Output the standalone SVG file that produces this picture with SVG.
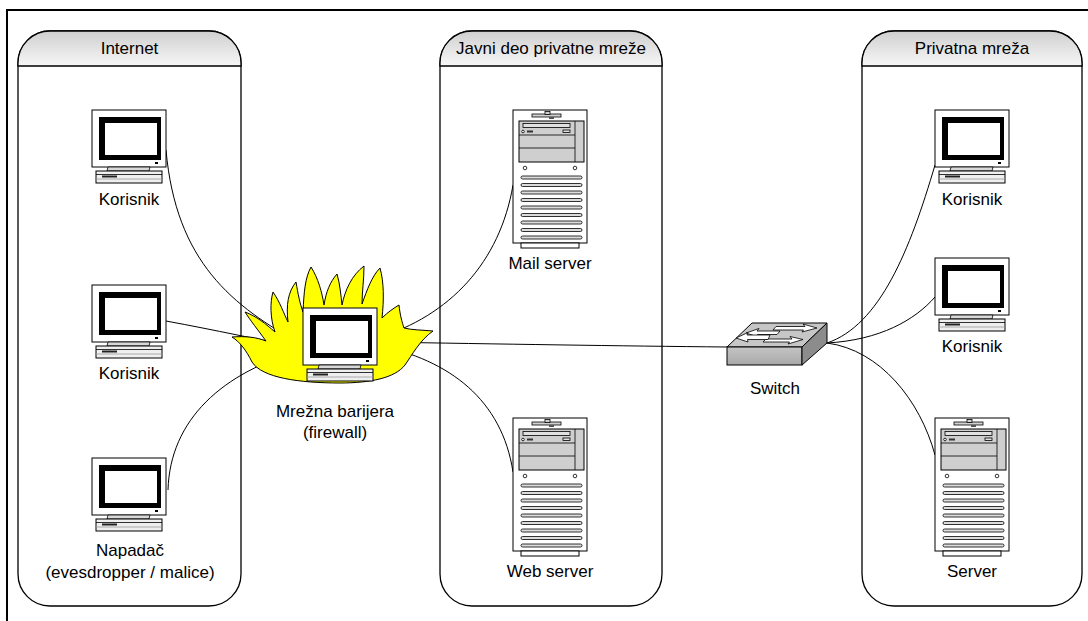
<svg xmlns="http://www.w3.org/2000/svg" width="1088" height="621" viewBox="0 0 1088 621">
  <style>
    .lane { fill: #ffffff; stroke: #000000; stroke-width: 1.3; }
    .lane-head { fill: url(#headGrad); stroke: #000000; stroke-width: 1.3; }
    .title { font-family: "Liberation Sans", Arial, sans-serif; font-size: 17px; fill: #000000; text-anchor: middle; }
    .label { font-family: "Liberation Sans", Arial, sans-serif; font-size: 17px; fill: #000000; text-anchor: middle; }
    .wire { fill: none; stroke: #000000; stroke-width: 1; }
    .ol { stroke: #000000; stroke-width: 1; }
    .thin { stroke: #000000; stroke-width: 0.8; }
  </style>
  <defs>
    <linearGradient id="headGrad" x1="0" y1="0" x2="0" y2="1">
      <stop offset="0" stop-color="#cfcfcf"/>
      <stop offset="1" stop-color="#f7f7f7"/>
    </linearGradient>
    <linearGradient id="switchFront" x1="0" y1="0" x2="0" y2="1">
      <stop offset="0" stop-color="#c4c4c4"/>
      <stop offset="1" stop-color="#a8a8a8"/>
    </linearGradient>

    <!-- desktop workstation: monitor + base unit, 74 x 73 -->
    <g id="pc">
      <rect x="0" y="0" width="74" height="57" fill="#ffffff" class="ol"/>
      <rect x="7" y="7" width="62" height="43" fill="#000000"/>
      <rect x="13" y="13" width="52" height="32" fill="#ffffff"/>
      <rect x="63" y="52" width="3" height="2" fill="#000000"/>
      <polygon points="16,57 58,57 57,61 15,61" fill="#d8d8d8" class="thin"/>
      <rect x="4" y="61" width="66" height="12" fill="#efefef" class="ol"/>
      <line x1="4" y1="64.5" x2="70" y2="64.5" class="thin"/>
      <rect x="10" y="65.5" width="15" height="2" fill="#222222"/>
      <line x1="4" y1="69" x2="70" y2="69" stroke="#999999" stroke-width="0.8"/>
    </g>

    <!-- tower server, 74 x 138 -->
    <g id="tower">
      <rect x="0" y="0" width="74" height="133" fill="#ffffff" class="ol"/>
      <rect x="19" y="4" width="29" height="3" fill="#d0d0d0" class="thin"/>
      <rect x="32" y="1.5" width="5" height="3" fill="#d0d0d0" class="thin"/>
      <rect x="36" y="7" width="5" height="2" fill="#555555"/>
      <rect x="6" y="11" width="65" height="41" fill="#cfcfcf" class="ol"/>
      <line x1="62" y1="11" x2="62" y2="52" class="thin"/>
      <line x1="6" y1="25" x2="62" y2="25" class="thin"/>
      <line x1="6" y1="38" x2="62" y2="38" class="thin"/>
      <rect x="10" y="13.5" width="47" height="4" fill="#e0e0e0" class="thin"/>
      <circle cx="10" cy="21.5" r="1.3" fill="#ffffff" class="thin"/>
      <rect x="14" y="20.5" width="6" height="2" fill="#333333"/>
      <rect x="50" y="20" width="7" height="2.5" fill="#e0e0e0" class="thin"/>
      <circle cx="12" cy="58" r="1.8" fill="#ffffff" class="thin"/>
      <circle cx="62" cy="58" r="1.8" fill="#ffffff" class="thin"/>
      <g fill="#dcdcdc" class="thin">
        <rect x="8" y="66" width="61" height="3" rx="1.5"/>
        <rect x="8" y="73.5" width="61" height="3" rx="1.5"/>
        <rect x="8" y="81" width="61" height="3" rx="1.5"/>
        <rect x="8" y="88.5" width="61" height="3" rx="1.5"/>
        <rect x="8" y="96" width="61" height="3" rx="1.5"/>
        <rect x="8" y="103.5" width="61" height="3" rx="1.5"/>
        <rect x="8" y="111" width="61" height="3" rx="1.5"/>
        <rect x="8" y="118.5" width="61" height="3" rx="1.5"/>
        <rect x="8" y="126" width="61" height="3" rx="1.5"/>
      </g>
      <rect x="8" y="133" width="58" height="5" fill="#ffffff" class="ol"/>
    </g>
  </defs>

  <rect x="0" y="0" width="1088" height="621" fill="#ffffff"/>

  <!-- page frame -->
  <path d="M7 621 V10 H1088" fill="none" stroke="#000000" stroke-width="2"/>

  <!-- zones -->
  <g id="lane-internet">
    <rect x="18" y="31" width="223" height="575" rx="32" class="lane"/>
    <path d="M18 66 V63 A32 32 0 0 1 50 31 H209 A32 32 0 0 1 241 63 V66 Z" class="lane-head"/>
    <text x="129.5" y="54" class="title">Internet</text>
  </g>
  <g id="lane-public">
    <rect x="440" y="31" width="222" height="575" rx="32" class="lane"/>
    <path d="M440 66 V63 A32 32 0 0 1 472 31 H630 A32 32 0 0 1 662 63 V66 Z" class="lane-head"/>
    <text x="551" y="54" class="title">Javni deo privatne mreže</text>
  </g>
  <g id="lane-private">
    <rect x="862" y="31" width="220" height="575" rx="32" class="lane"/>
    <path d="M862 66 V63 A32 32 0 0 1 894 31 H1050 A32 32 0 0 1 1082 63 V66 Z" class="lane-head"/>
    <text x="972" y="54" class="title">Privatna mreža</text>
  </g>

  <!-- links -->
  <g id="connectors">
    <path class="wire" d="M166 150 C176 262 232 306 303 345"/>
    <path class="wire" d="M166 321 C215 330 260 340 303 348"/>
    <path class="wire" d="M168 490 C170 420 222 372 303 350"/>
    <path class="wire" d="M377 338 C450 316 500 262 513 185"/>
    <path class="wire" d="M377 345 C450 360 502 400 513 472"/>
    <path class="wire" d="M377 342 C500 344 620 346 727 347"/>
    <path class="wire" d="M827 343 C880 325 910 250 935 165"/>
    <path class="wire" d="M827 343 C880 340 915 320 935 297"/>
    <path class="wire" d="M827 343 C880 350 920 400 935 455"/>
  </g>

  <g id="internet-user-1">
    <use href="#pc" x="92" y="110"/>
    <text x="129" y="205" class="label">Korisnik</text>
  </g>
  <g id="internet-user-2">
    <use href="#pc" x="92" y="285"/>
    <text x="129" y="379" class="label">Korisnik</text>
  </g>
  <g id="attacker">
    <use href="#pc" x="92" y="458"/>
    <text x="130" y="556" class="label">Napadač</text>
    <text x="130" y="578" class="label">(evesdropper / malice)</text>
  </g>

  <g id="firewall">
    <path d="M340 383 C300 383 262 378 252 362 C246 350 240 342 232 337 C245 336 256 337 266 341 C258 330 250 320 245 312 C256 316 266 324 275 332 C270 318 270 302 273 292 C280 302 284 314 288 322 C286 305 288 292 296 282 C298 294 300 304 303 312 C304 292 305 278 311 267 C318 278 322 292 324 305 C326 292 330 282 337 274 C340 284 341 296 342 305 C345 290 352 275 364 266 C364 280 362 292 362 304 C367 290 372 276 380 268 C384 282 384 300 382 318 C388 312 394 308 399 305 C400 315 402 322 404 328 C412 330 422 330 433 331 C420 340 412 355 405 365 C395 378 370 383 340 383 Z" fill="#ffff00" stroke="#000000" stroke-width="1"/>
    <use href="#pc" x="303" y="308"/>
    <text x="335" y="417" class="label">Mrežna barijera</text>
    <text x="335" y="438" class="label">(firewall)</text>
  </g>

  <g id="mail-server">
    <use href="#tower" x="513" y="110"/>
    <text x="550" y="269" class="label">Mail server</text>
  </g>
  <g id="web-server">
    <use href="#tower" x="513" y="418"/>
    <text x="550" y="577" class="label">Web server</text>
  </g>

  <g id="switch">
    <polygon points="752,323 827,323 802,347 727,347" fill="#c6c6c6" class="ol"/>
    <rect x="727" y="347" width="75" height="18" fill="url(#switchFront)" class="ol"/>
    <polygon points="802,347 827,323 827,343 802,365" fill="#8c8c8c" class="ol"/>
    <g fill="#ffffff" class="thin">
      <polygon points="776,326.5 805,326.5 803,324 817,328 802,332 803.5,330 773,330"/>
      <polygon points="780,331 757,331 759,328.5 746,333 758,337 757.5,334.5 777,334.5"/>
      <polygon points="766,339 792,339 790,336.5 803,339.5 788,344 789.5,342 763,342"/>
      <polygon points="770,335 747,335 748,332.5 736,338 748,342 747.5,339.5 768,339.5"/>
    </g>
    <text x="775" y="394" class="label">Switch</text>
  </g>

  <g id="private-user-1">
    <use href="#pc" x="935" y="110"/>
    <text x="972" y="205" class="label">Korisnik</text>
  </g>
  <g id="private-user-2">
    <use href="#pc" x="935" y="258"/>
    <text x="972" y="352" class="label">Korisnik</text>
  </g>
  <g id="private-server">
    <use href="#tower" x="935" y="418"/>
    <text x="972" y="577" class="label">Server</text>
  </g>
</svg>
